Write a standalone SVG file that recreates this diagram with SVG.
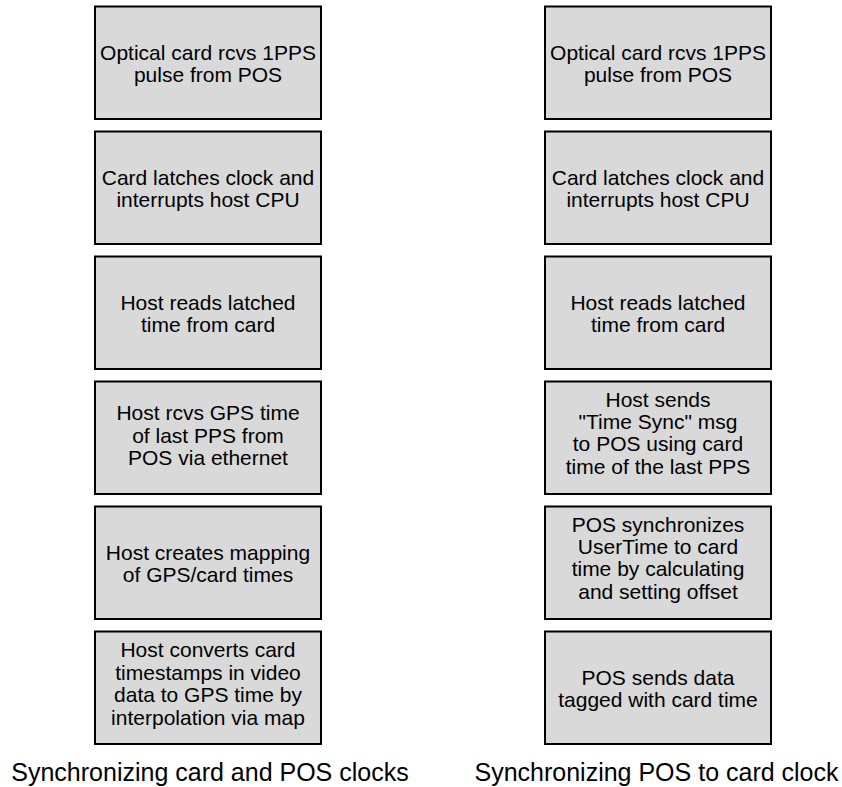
<svg xmlns="http://www.w3.org/2000/svg" width="842" height="787" viewBox="0 0 842 787">
<style>
rect.box{fill:#d9d9d9;stroke:#000;stroke-width:2}
text{font-family:"Liberation Sans",Arial,sans-serif;fill:#000;text-anchor:middle}
.t{font-size:21px}
.cap{font-size:25px}
</style>
<rect width="842" height="787" fill="#fff"/>
<g id="left-col">
<g id="L1"><rect class="box" x="95" y="6.5" width="226" height="112.5"/>
<text class="t" x="208"><tspan x="208" y="59.5">Optical card rcvs 1PPS</tspan><tspan x="208" y="81.8">pulse from POS</tspan></text></g>
<g id="L2"><rect class="box" x="95" y="131.5" width="226" height="112.5"/>
<text class="t"><tspan x="208" y="184.5">Card latches clock and</tspan><tspan x="208" y="206.8">interrupts host CPU</tspan></text></g>
<g id="L3"><rect class="box" x="95" y="256.5" width="226" height="112.5"/>
<text class="t"><tspan x="208" y="309.5">Host reads latched</tspan><tspan x="208" y="331.8">time from card</tspan></text></g>
<g id="L4"><rect class="box" x="95" y="381.5" width="226" height="112.5"/>
<text class="t"><tspan x="208" y="420.2">Host rcvs GPS time</tspan><tspan x="208" y="442.6">of last PPS from</tspan><tspan x="208" y="465">POS via ethernet</tspan></text></g>
<g id="L5"><rect class="box" x="95" y="506.5" width="226" height="112.5"/>
<text class="t"><tspan x="208" y="559.5">Host creates mapping</tspan><tspan x="208" y="581.8">of GPS/card times</tspan></text></g>
<g id="L6"><rect class="box" x="95" y="631.5" width="226" height="112.5"/>
<text class="t"><tspan x="208" y="657.3">Host converts card</tspan><tspan x="208" y="679.7">timestamps in video</tspan><tspan x="208" y="702.1">data to GPS time by</tspan><tspan x="208" y="724.5">interpolation via map</tspan></text></g>
<text id="caption-left" class="cap" x="210" y="781">Synchronizing card and POS clocks</text>
</g>
<g id="right-col">
<g id="R1"><rect class="box" x="545" y="6.5" width="226" height="112.5"/>
<text class="t"><tspan x="658" y="59.5">Optical card rcvs 1PPS</tspan><tspan x="658" y="81.8">pulse from POS</tspan></text></g>
<g id="R2"><rect class="box" x="545" y="131.5" width="226" height="112.5"/>
<text class="t"><tspan x="658" y="184.5">Card latches clock and</tspan><tspan x="658" y="206.8">interrupts host CPU</tspan></text></g>
<g id="R3"><rect class="box" x="545" y="256.5" width="226" height="112.5"/>
<text class="t"><tspan x="658" y="309.5">Host reads latched</tspan><tspan x="658" y="331.8">time from card</tspan></text></g>
<g id="R4"><rect class="box" x="545" y="381.5" width="226" height="112.5"/>
<text class="t"><tspan x="658" y="406.5">Host sends</tspan><tspan x="658" y="428.9">"Time Sync" msg</tspan><tspan x="658" y="451.3">to POS using card</tspan><tspan x="658" y="473.7">time of the last PPS</tspan></text></g>
<g id="R5"><rect class="box" x="545" y="506.5" width="226" height="112.5"/>
<text class="t"><tspan x="658" y="531.5">POS synchronizes</tspan><tspan x="658" y="553.9">UserTime to card</tspan><tspan x="658" y="576.3">time by calculating</tspan><tspan x="658" y="598.7">and setting offset</tspan></text></g>
<g id="R6"><rect class="box" x="545" y="631.5" width="226" height="112.5"/>
<text class="t"><tspan x="658" y="684.5">POS sends data</tspan><tspan x="658" y="706.8">tagged with card time</tspan></text></g>
<text id="caption-right" class="cap" x="656.5" y="781">Synchronizing POS to card clock</text>
</g>
<g id="connectors"/>
</svg>
